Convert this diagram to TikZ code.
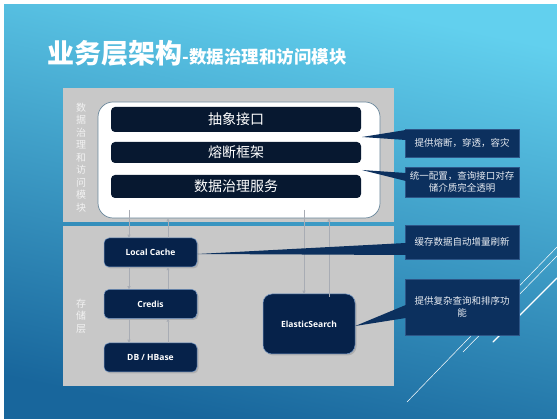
\documentclass[tikz,border=0pt]{standalone}
\usepackage{fontspec}
\setmainfont{Open Sans}
\newfontfamily\cjk{Noto Sans CJK SC}
\usepackage{tikz}
\usetikzlibrary{arrows.meta,positioning,shadows}
\definecolor{bgtop}{RGB}{98,208,238}
\definecolor{bgbot}{RGB}{24,102,156}
\definecolor{panelgray}{RGB}{200,200,200}
\definecolor{framedge}{RGB}{105,135,155}
\definecolor{layerdark}{RGB}{7,24,48}
\definecolor{storefill}{RGB}{6,34,74}
\definecolor{storedge}{RGB}{115,150,195}
\definecolor{callfill}{RGB}{12,48,94}
\definecolor{calledge}{RGB}{45,85,135}
\definecolor{calltext}{RGB}{232,236,242}
\definecolor{flowgray}{RGB}{168,172,180}
\definecolor{sidegray}{RGB}{242,242,242}
\tikzset
{
    panel/.style     = {fill=panelgray, draw=none},
    sidelabel/.style = {align=center, text=sidegray, inner sep=0pt, font=\cjk\fontsize{10}{12.5}\selectfont},
    frame/.style     = {rounded corners=15pt, fill=white, draw=framedge, line width=0.7pt, minimum width=282pt, minimum height=116pt},
    layerbox/.style  = {rounded corners=4pt, fill=layerdark, text=white, inner sep=0pt, minimum width=250pt, font=\cjk\fontsize{14}{16}\selectfont},
    storenode/.style = {rounded corners=5pt, fill=storefill, draw=storedge, line width=0.5pt, text=white, inner sep=0pt, minimum width=93pt, minimum height=29pt, font=\bfseries\fontsize{8.5}{10}\selectfont, drop shadow={opacity=0.35, shadow xshift=1.5pt, shadow yshift=-1.5pt}},
    notebox/.style   = {fill=callfill, draw=calledge, line width=0.5pt, text=calltext, inner sep=0pt, minimum width=114pt, align=center, font=\cjk\fontsize{9.5}{12.5}\selectfont},
    pointer/.style   = {fill=callfill},
    flow/.style      = {draw=flowgray, line width=0.6pt, -{Triangle[length=3pt, width=3pt]}},
    deco/.style      = {draw=white, line cap=round}
}
\begin{document}
\begin{tikzpicture}[x=1pt, y=-1pt]
	\useasboundingbox (0,0) rectangle (557,419);
	% background
	\shade[top color=bgtop, bottom color=bgbot, shading angle=-12] (4,5) rectangle (557,419);
	\draw[deco, line width=0.5pt] (407,402) -- (557,247);
	\draw[deco, line width=0.5pt] (463,352) -- (557,256);
	\draw[deco, line width=1.4pt] (493,342) -- (557,278);
	% title
	\node[anchor=base west, text=white, inner sep=0pt, font=\cjk\bfseries\fontsize{27}{30}\selectfont] (title) at (47,64) {业务层架构};
	\node[anchor=base west, text=white, inner sep=0pt, font=\cjk\bfseries\fontsize{17.5}{20}\selectfont] (subtitle) at (title.base east) {-数据治理和访问模块};
	% two layers
	\fill[panel] (63,88) rectangle (394,222);
	\fill[panel] (63,226) rectangle (394,386);
	\node[sidelabel] (accesslbl) at (81,157.5) {数\\据\\治\\理\\和\\访\\问\\模\\块};
	\node[sidelabel] (storelbl) at (81,316) {存\\储\\层};
	% access module
	\node[frame] (frame) at (239,160) {};
	\node[layerbox, minimum height=25pt] (api) at (236,119.5) {抽象接口};
	\node[layerbox, minimum height=21pt] (breaker) at (236,152.5) {熔断框架};
	\node[layerbox, minimum height=23pt] (govern) at (236,186.5) {数据治理服务};
	% storage
	\node[storenode] (cache) at (150.5,252.5) {Local Cache};
	\node[storenode, below=22pt of cache] (credis) {Credis};
	\node[storenode, below=24pt of credis] (db) {DB / HBase};
	\node[storenode, minimum width=92pt, minimum height=60pt, rounded corners=9pt] (es) at (309,324) {ElasticSearch};
	% flows
	\coordinate (down1) at (129,210);
	\coordinate (down2) at (304,210);
	\draw[flow] (down1) -- (down1 |- cache.north);
	\draw[flow] ([xshift=17.5pt]cache.north) -- ([xshift=17.5pt]cache.north |- frame.south);
	\draw[flow] ([xshift=-21.5pt]cache.south) -- ([xshift=-21.5pt]credis.north);
	\draw[flow] ([xshift=17.5pt]credis.north) -- ([xshift=17.5pt]cache.south);
	\draw[flow] ([xshift=-21.5pt]credis.south) -- ([xshift=-21.5pt]db.north);
	\draw[flow] ([xshift=17.5pt]db.north) -- ([xshift=17.5pt]credis.south);
	\draw[flow] (down2) -- (down2 |- es.north);
	\draw[flow] ([xshift=20pt,yshift=-3pt]es.north) -- ([xshift=20pt]es.north |- frame.south);
	% notes
	\node[notebox, minimum height=28pt] (note1) at (462,143) {提供熔断，穿透，容灾};
	\node[notebox, minimum height=30pt] (note2) at (462,182) {统一配置，查询接口对存\\储介质完全透明};
	\node[notebox, minimum height=34pt] (note3) at (462,242) {缓存数据自动增量刷新};
	\node[notebox, minimum height=56pt] (note4) at (462,307) {提供复杂查询和排序功\\能};
	\coordinate (tip1) at (362,137);
	\coordinate (tip2) at (362,170);
	\fill[pointer] (tip1) -- ([xshift=1pt,yshift=13pt]note1.west) -- ([xshift=1pt,yshift=3pt]note1.west) -- cycle;
	\fill[pointer] (tip2) -- ([xshift=1pt,yshift=9pt]note2.west) -- ([xshift=1pt,yshift=1pt]note2.west) -- cycle;
	\fill[pointer] ([yshift=-1.5pt]cache.east) -- ([xshift=1pt,yshift=-1pt]note3.west) -- ([xshift=1pt,yshift=-13pt]note3.west) -- cycle;
	\fill[pointer] ([yshift=-2pt]es.east) -- ([xshift=1pt,yshift=2pt]note4.west) -- ([xshift=1pt,yshift=-11pt]note4.west) -- cycle;
\end{tikzpicture}
\end{document}
